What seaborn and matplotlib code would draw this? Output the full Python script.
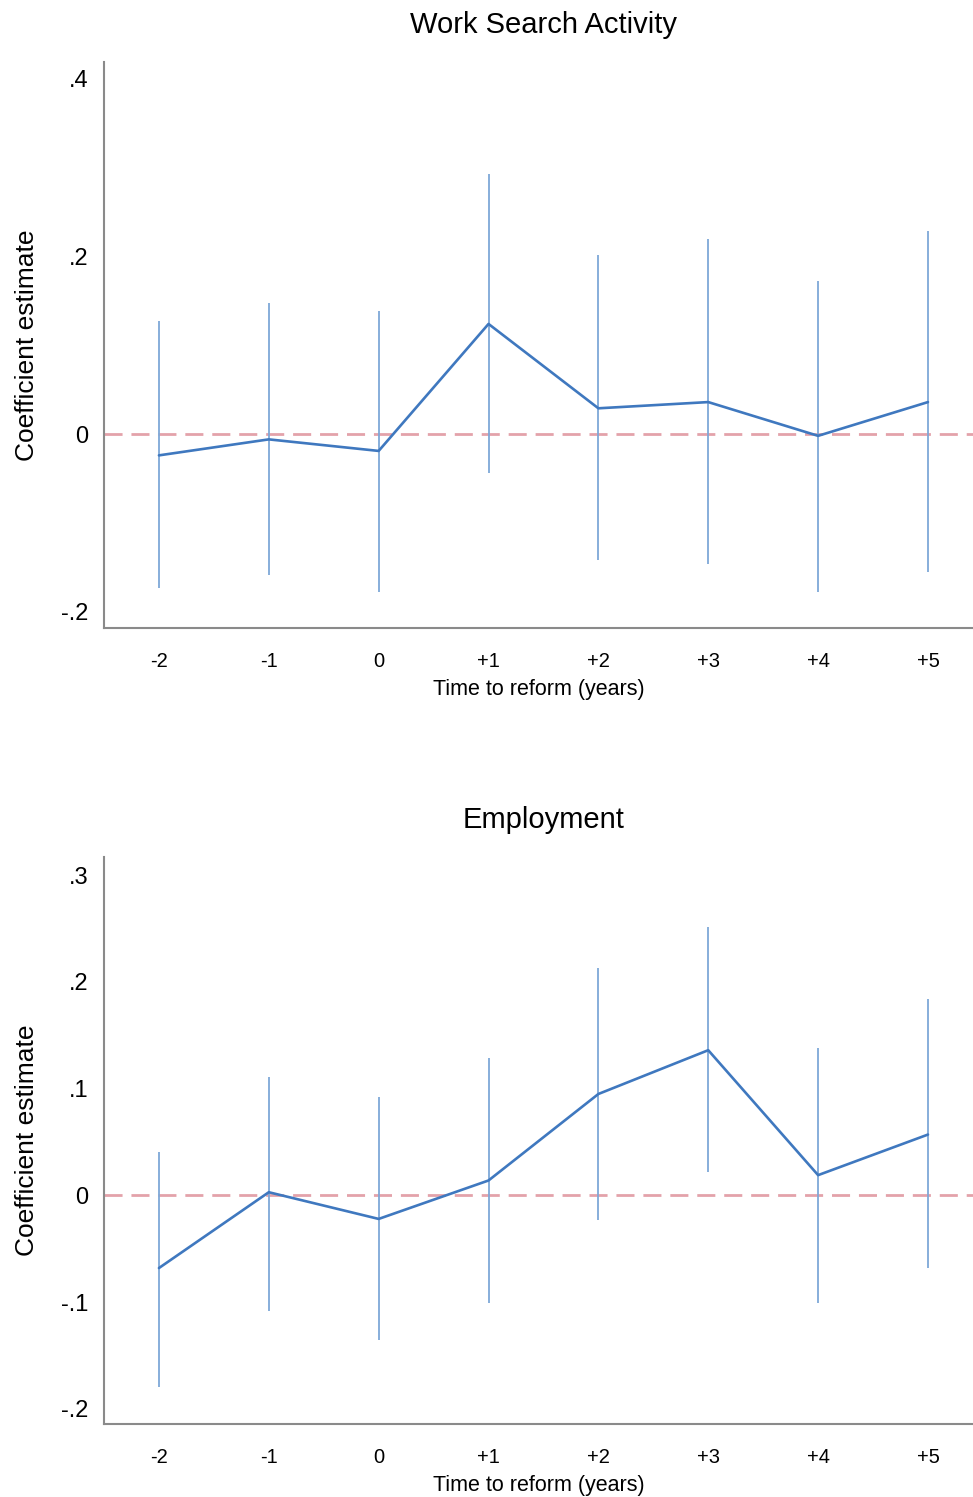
import numpy as np
import pandas as pd
import matplotlib
matplotlib.use("Agg")
import matplotlib.pyplot as plt
import seaborn as sns

# Event-time categories
periods = [-2, -1, 0, 1, 2, 3, 4, 5]
period_labels = ["-2", "-1", "0", "+1", "+2", "+3", "+4", "+5"]

# Work search activity: point estimates and 95% CI bounds
search_coef = [-0.024, -0.006, -0.019, 0.124, 0.029, 0.036, -0.002, 0.036]
search_lo = [-0.173, -0.159, -0.178, -0.044, -0.142, -0.146, -0.178, -0.155]
search_hi = [0.127, 0.148, 0.139, 0.293, 0.202, 0.220, 0.172, 0.229]

# Employment: point estimates and 95% CI bounds
emp_coef = [-0.068, 0.003, -0.022, 0.014, 0.095, 0.136, 0.019, 0.057]
emp_lo = [-0.179, -0.108, -0.135, -0.101, -0.023, 0.022, -0.101, -0.068]
emp_hi = [0.041, 0.111, 0.092, 0.129, 0.213, 0.251, 0.138, 0.184]

search_yticks = [-0.2, 0.0, 0.2, 0.4]
search_yticklabels = ["-.2", "0", ".2", ".4"]
emp_yticks = [-0.2, -0.1, 0.0, 0.1, 0.2, 0.3]
emp_yticklabels = ["-.2", "-.1", "0", ".1", ".2", ".3"]

sns.set_theme(style="white")
plt.rcParams["font.family"] = ["Liberation Sans", "DejaVu Sans"]
plt.rcParams["text.color"] = "black"
plt.rcParams["axes.labelcolor"] = "black"
plt.rcParams["xtick.color"] = "black"
plt.rcParams["ytick.color"] = "black"

LINE = "#3f78bf"
CI = "#7ea8d8"
REF = "#e3a2aa"
SPINE = "#8a8a8a"

fig = plt.figure(figsize=(9.73, 14.97), dpi=100)
ax_top = fig.add_axes([0.1069, 0.5805, 0.8931, 0.3781])
ax_bot = fig.add_axes([0.1069, 0.0488, 0.8931, 0.3787])


def draw_panel(ax, title, coef, lo, hi, yticks, yticklabels, ylim):
    df = pd.DataFrame({"period": periods, "coef": coef, "lo": lo, "hi": hi})
    ax.axhline(0, color=REF, lw=2.0, dashes=(6.5, 3.2), zorder=1)
    ax.vlines(df["period"], df["lo"], df["hi"], color=CI, lw=1.3, zorder=2)
    sns.lineplot(data=df, x="period", y="coef", ax=ax, color=LINE, lw=1.9,
                 zorder=3, legend=False)
    ax.set_xlim(-2.5, 5.41)
    ax.set_ylim(*ylim)
    ax.set_xticks(periods)
    ax.set_xticklabels(period_labels, fontsize=14.5)
    ax.set_yticks(yticks)
    ax.set_yticklabels(yticklabels, fontsize=17)
    ax.tick_params(axis="x", length=0, pad=17)
    ax.tick_params(axis="y", length=0, pad=11)
    ax.set_xlabel("Time to reform (years)", fontsize=15.5, labelpad=6)
    ax.set_ylabel("Coefficient estimate", fontsize=19, labelpad=16)
    ax.set_title(title, fontsize=21, pad=21, x=0.506)
    for side in ("top", "right"):
        ax.spines[side].set_visible(False)
    for side in ("left", "bottom"):
        ax.spines[side].set_color(SPINE)
        ax.spines[side].set_linewidth(1.5)
    ax.grid(False)


draw_panel(ax_top, "Work Search Activity", search_coef, search_lo, search_hi,
           search_yticks, search_yticklabels, (-0.2184, 0.419))
draw_panel(ax_bot, "Employment", emp_coef, emp_lo, emp_hi,
           emp_yticks, emp_yticklabels, (-0.214, 0.3169))

fig.savefig("out.png", dpi=100, facecolor="white")
